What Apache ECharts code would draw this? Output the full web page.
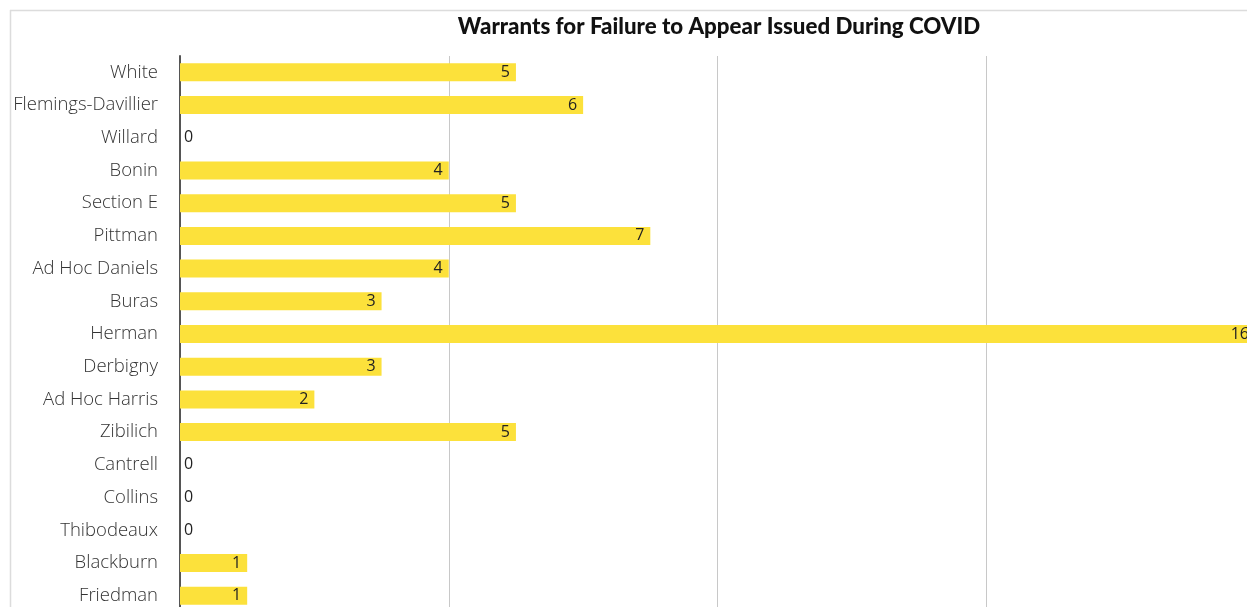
<!DOCTYPE html>
<html>
<head>
<meta charset="utf-8">
<script src="https://cdn.jsdelivr.net/npm/echarts@6/dist/echarts.min.js"></script>
<style>
  html, body { margin: 0; padding: 0; background: #fff; }
  #main { width: 1247px; height: 607px; }
</style>
</head>
<body>
<div id="main"></div>
<script>
var judges = ['White', 'Flemings-Davillier', 'Willard', 'Bonin', 'Section E', 'Pittman',
  'Ad Hoc Daniels', 'Buras', 'Herman', 'Derbigny', 'Ad Hoc Harris', 'Zibilich',
  'Cantrell', 'Collins', 'Thibodeaux', 'Blackburn', 'Friedman'];
var warrants = [5, 6, 0, 4, 5, 7, 4, 3, 16, 3, 2, 5, 0, 0, 0, 1, 1];
var xTicks = [0, 4, 8, 12, 16];

var chart = echarts.init(document.getElementById('main'));

// zero bars get their label on the right of the axis
var barData = warrants.map(function (v) {
  if (v === 0) return { value: v, label: { position: 'right', distance: 4 } };
  return v;
});

chart.setOption({
  animation: false,
  textStyle: { fontFamily: 'Open Sans' },
  title: {
    text: 'Warrants for Failure to Appear Issued During COVID',
    left: 714,
    textAlign: 'center',
    top: 11,
    textStyle: { fontFamily: 'Lato', fontWeight: 900, fontSize: 22.3, color: '#111' }
  },
  graphic: [
    { type: 'line', shape: { x1: 10, y1: 10.5, x2: 1247, y2: 10.5 }, style: { stroke: '#dcdcdc', lineWidth: 1.5 } },
    { type: 'line', shape: { x1: 10.5, y1: 10, x2: 10.5, y2: 607 }, style: { stroke: '#dcdcdc', lineWidth: 1.5 } }
  ],
  grid: { left: 180, top: 56, right: -8, bottom: -5, outerBoundsMode: 'none' },
  xAxis: {
    type: 'value',
    min: xTicks[0],
    max: xTicks[xTicks.length - 1],
    interval: 4,
    axisLabel: { show: false },
    axisLine: { show: false },
    axisTick: { show: false },
    splitLine: { lineStyle: { color: '#c8c8c8', width: 1 } }
  },
  yAxis: {
    type: 'category',
    data: judges,
    inverse: true,
    axisTick: { show: false },
    axisLine: { lineStyle: { color: '#555', width: 2 } },
    axisLabel: { color: '#333', fontSize: 18.5, fontWeight: 300, margin: 22 }
  },
  series: [{
    type: 'bar',
    data: barData,
    barWidth: 18,
    itemStyle: { color: '#fce13b' },
    label: {
      show: true,
      position: 'insideRight',
      distance: 6,
      color: '#222',
      fontSize: 16
    }
  }]
});
</script>
</body>
</html>
